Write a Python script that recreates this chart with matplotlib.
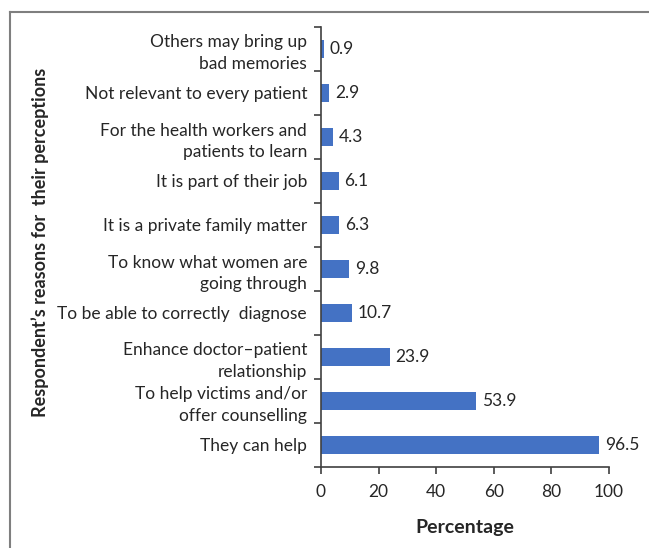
import matplotlib
matplotlib.use("Agg")
import matplotlib.pyplot as plt
from matplotlib.lines import Line2D
import numpy as np

categories = [
    "They can help",
    "To help victims and/or\noffer counselling",
    "Enhance doctor\u2013patient\nrelationship",
    "To be able to correctly  diagnose",
    "To know what women are\ngoing through",
    "It is a private family matter",
    "It is part of their job",
    "For the health workers and\npatients to learn",
    "Not relevant to every patient",
    "Others may bring up\nbad memories",
]
values = [96.5, 53.9, 23.9, 10.7, 9.8, 6.3, 6.1, 4.3, 2.9, 0.9]
xticks = [0, 20, 40, 60, 80, 100]

plt.rcParams['font.family'] = ['Lato', 'DejaVu Sans']
W, H = 649, 548
fig = plt.figure(figsize=(W/100, H/100), dpi=100)
ax = fig.add_axes([321/W, 1-467/H, (609-321)/W, (467-27)/H])

y = np.arange(len(categories))
color = '#4472C4'
ax.barh(y, values, height=0.4, color=color)
for yi, v in zip(y, values):
    ax.text(v + 2.0, yi, f"{v:.1f}", va='center', ha='left', fontsize=12.5, color='#262626')

ax.set_ylim(-0.5, len(categories)-0.5)
ax.set_xlim(0, 100)
ax.set_xticks(xticks)
ax.set_xticklabels([str(t) for t in xticks], fontsize=12.5, color='#262626')
ax.set_yticks(y)
ax.set_yticklabels(categories, fontsize=12.5, color='#262626', linespacing=1.4)
ax.tick_params(axis='y', length=0, pad=10)
ax.set_yticks(np.arange(-0.5, len(categories), 1.0), minor=True)
ax.tick_params(axis='y', which='minor', length=5, width=1.2, color='#404040')
ax.tick_params(axis='x', length=5, width=1.2, color='#404040', pad=7)

for s in ['top', 'right']:
    ax.spines[s].set_visible(False)
for s in ['left', 'bottom']:
    ax.spines[s].set_color('#404040')
    ax.spines[s].set_linewidth(1.2)

ax.set_xlabel("Percentage", fontsize=14, fontweight='bold', color='#262626', labelpad=14)
fig.text(40/W, 1-242/H, "Respondent\u2019s reasons for  their perceptions", rotation=90,
         ha='center', va='center', fontsize=13, fontweight='bold', color='#262626')

# outer frame (top and left edges)
fig.add_artist(Line2D([10/W, 1.0], [1-12/H, 1-12/H], transform=fig.transFigure, color='#7f7f7f', lw=1.5))
fig.add_artist(Line2D([10/W, 10/W], [0.0, 1-12/H], transform=fig.transFigure, color='#7f7f7f', lw=1.5))

fig.savefig("out.png", dpi=100)
